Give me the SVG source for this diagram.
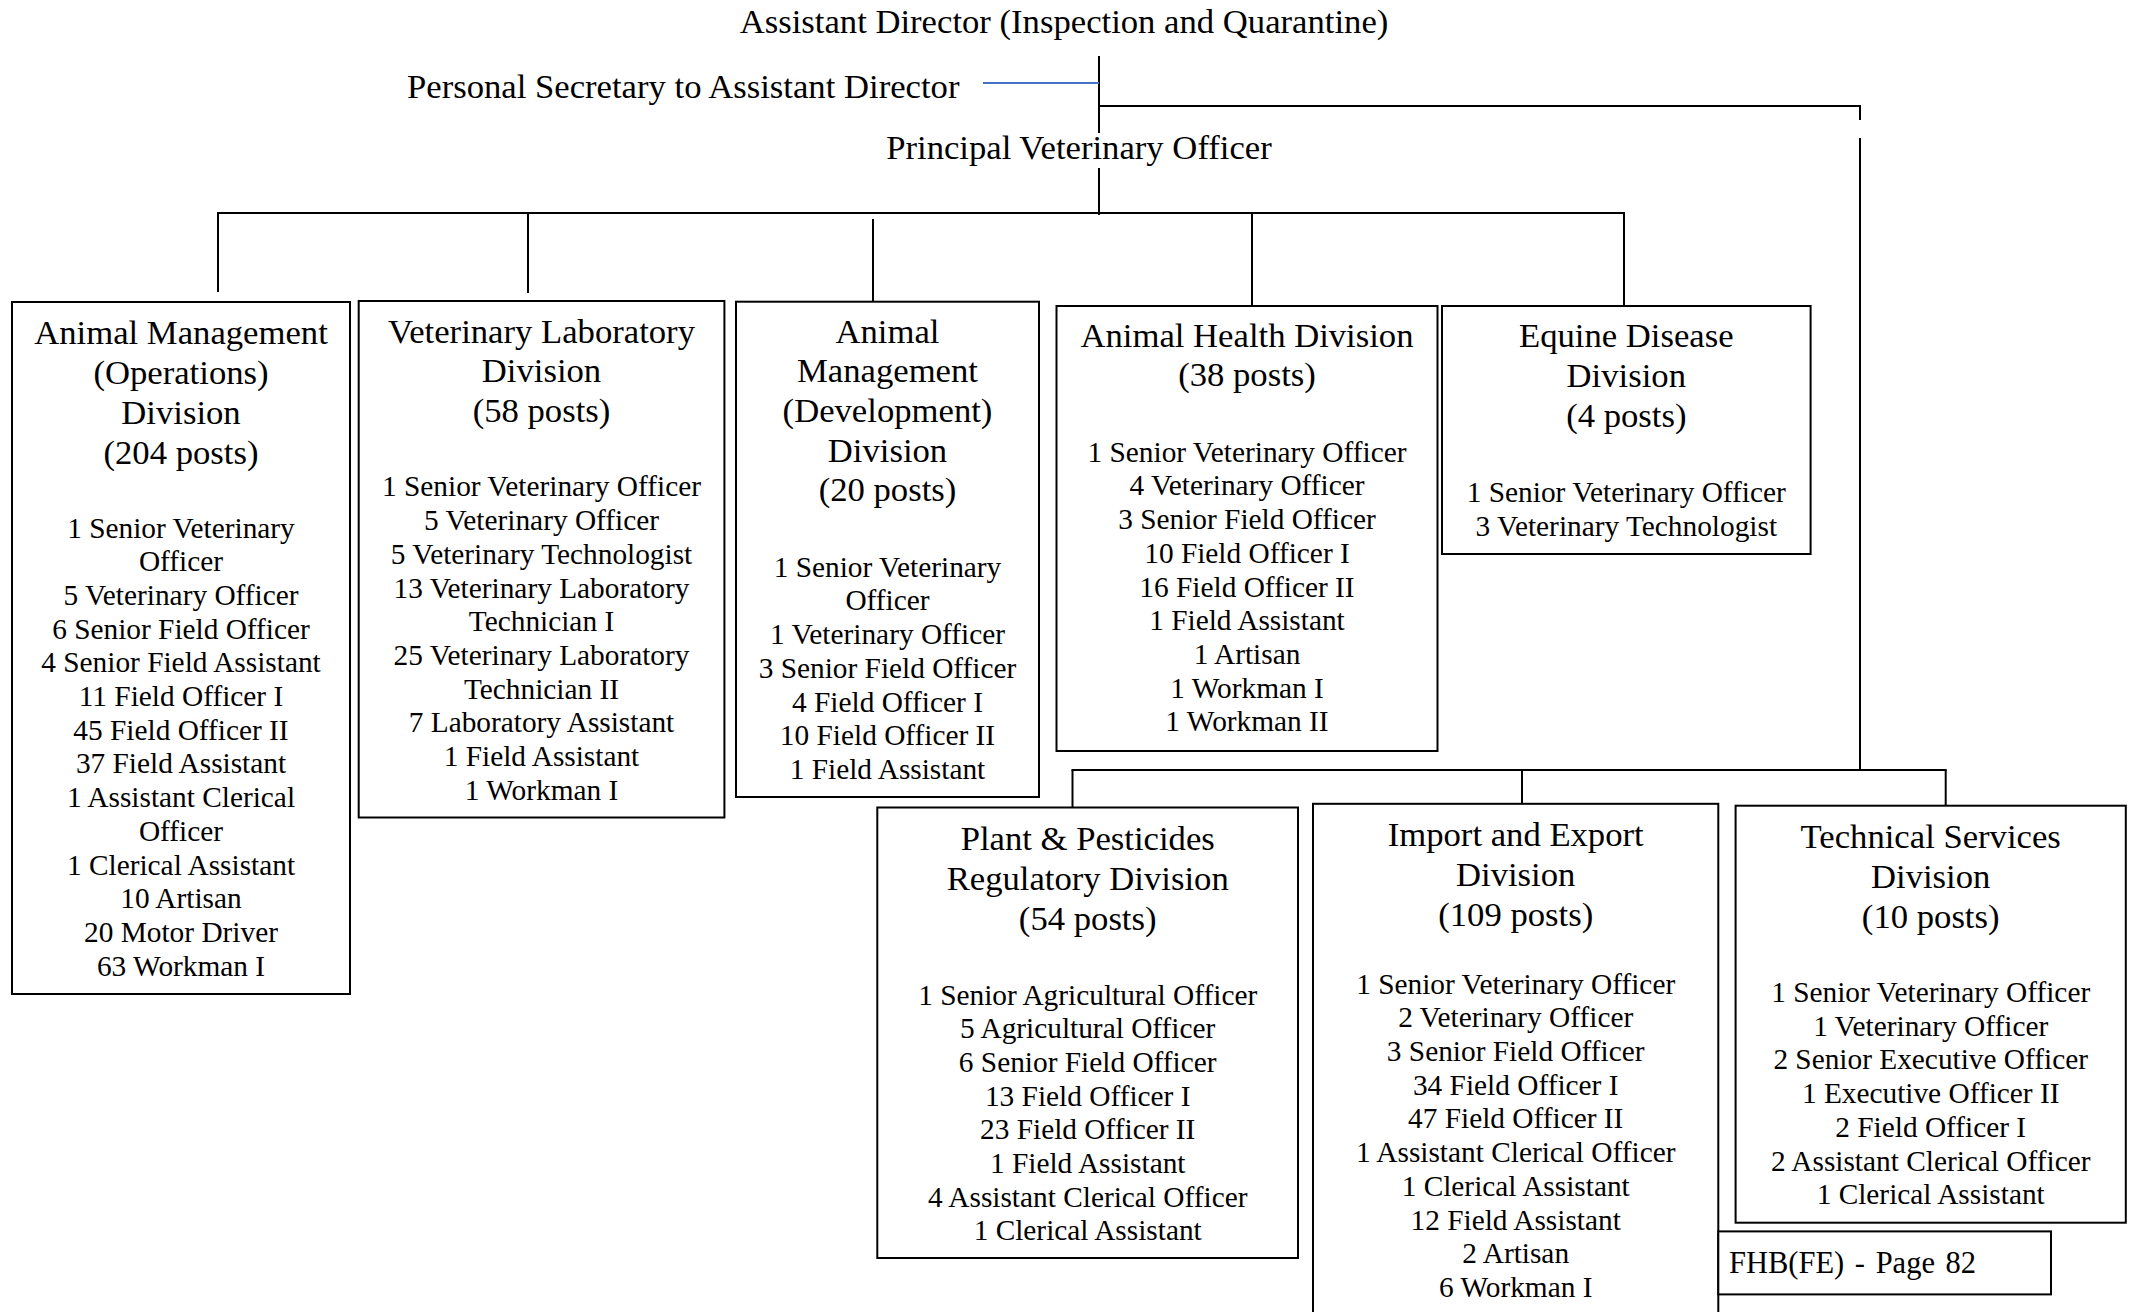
<svg xmlns="http://www.w3.org/2000/svg" width="2138" height="1312" viewBox="0 0 2138 1312">
<style>
text{font-family:"Liberation Serif","Times New Roman",serif;fill:#000}
.h{font-size:34.67px}
.t{font-size:34.67px;text-anchor:middle}
.b{font-size:29.33px;text-anchor:middle}
.box{fill:#fff;stroke:#000;stroke-width:2}
.ln{stroke:#000;stroke-width:2;fill:none}
.blue{stroke:#4472C4;stroke-width:2;fill:none}
</style>
<rect width="2138" height="1312" fill="#fff"/>
<g id="connectors">
<line class="ln" x1="1099" y1="56" x2="1099" y2="133"/>
<line class="ln" x1="1099" y1="168" x2="1099" y2="215"/>
<line class="blue" x1="983" y1="83" x2="1099" y2="83"/>
<line class="ln" x1="1099" y1="106" x2="1861" y2="106"/>
<line class="ln" x1="1860" y1="105" x2="1860" y2="120"/>
<line class="ln" x1="1860" y1="138" x2="1860" y2="770"/>
<line class="ln" x1="217" y1="213" x2="1625" y2="213" stroke-width="2.5"/>
<line class="ln" x1="218" y1="213" x2="218" y2="292"/>
<line class="ln" x1="528" y1="213" x2="528" y2="293"/>
<line class="ln" x1="873" y1="219" x2="873" y2="301"/>
<line class="ln" x1="1252" y1="213" x2="1252" y2="306"/>
<line class="ln" x1="1624" y1="213" x2="1624" y2="308"/>
<line class="ln" x1="1071.5" y1="770" x2="1946.7" y2="770"/>
<line class="ln" x1="1072.5" y1="770" x2="1072.5" y2="807"/>
<line class="ln" x1="1522" y1="770" x2="1522" y2="803"/>
<line class="ln" x1="1945.7" y1="770" x2="1945.7" y2="806"/>
</g>
<g id="assistant-director">
<text class="t" x="1064" y="33">Assistant Director (Inspection and Quarantine)</text>
</g>
<g id="personal-secretary">
<text class="h" x="407" y="98">Personal Secretary to Assistant Director</text>
</g>
<g id="principal-veterinary-officer">
<text class="t" x="1079" y="159">Principal Veterinary Officer</text>
</g>
<g id="animal-management-operations">
<rect class="box" x="12" y="302" width="338" height="692"/>
<text class="t" x="181" y="344">Animal Management</text>
<text class="t" x="181" y="384">(Operations)</text>
<text class="t" x="181" y="423.5">Division</text>
<text class="t" x="181" y="463.5">(204 posts)</text>
<text class="b" x="181" y="537.5">1 Senior Veterinary</text>
<text class="b" x="181" y="571.2">Officer</text>
<text class="b" x="181" y="604.9">5 Veterinary Officer</text>
<text class="b" x="181" y="638.6">6 Senior Field Officer</text>
<text class="b" x="181" y="672.3">4 Senior Field Assistant</text>
<text class="b" x="181" y="706">11 Field Officer I</text>
<text class="b" x="181" y="739.7">45 Field Officer II</text>
<text class="b" x="181" y="773.4">37 Field Assistant</text>
<text class="b" x="181" y="807.1">1 Assistant Clerical</text>
<text class="b" x="181" y="840.8">Officer</text>
<text class="b" x="181" y="874.5">1 Clerical Assistant</text>
<text class="b" x="181" y="908.2">10 Artisan</text>
<text class="b" x="181" y="941.9">20 Motor Driver</text>
<text class="b" x="181" y="975.6">63 Workman I</text>
</g>
<g id="veterinary-laboratory">
<rect class="box" x="358.7" y="301" width="365.7" height="516.5"/>
<text class="t" x="541.5" y="343">Veterinary Laboratory</text>
<text class="t" x="541.5" y="382">Division</text>
<text class="t" x="541.5" y="422">(58 posts)</text>
<text class="b" x="541.5" y="496.4">1 Senior Veterinary Officer</text>
<text class="b" x="541.5" y="530.1">5 Veterinary Officer</text>
<text class="b" x="541.5" y="563.8">5 Veterinary Technologist</text>
<text class="b" x="541.5" y="597.5">13 Veterinary Laboratory</text>
<text class="b" x="541.5" y="631.2">Technician I</text>
<text class="b" x="541.5" y="664.9">25 Veterinary Laboratory</text>
<text class="b" x="541.5" y="698.6">Technician II</text>
<text class="b" x="541.5" y="732.3">7 Laboratory Assistant</text>
<text class="b" x="541.5" y="766">1 Field Assistant</text>
<text class="b" x="541.5" y="799.7">1 Workman I</text>
</g>
<g id="animal-management-development">
<rect class="box" x="736" y="301.7" width="303" height="495.3"/>
<text class="t" x="887.5" y="343.3">Animal</text>
<text class="t" x="887.5" y="382">Management</text>
<text class="t" x="887.5" y="421.7">(Development)</text>
<text class="t" x="887.5" y="461.5">Division</text>
<text class="t" x="887.5" y="501.3">(20 posts)</text>
<text class="b" x="887.5" y="576.7">1 Senior Veterinary</text>
<text class="b" x="887.5" y="610.4">Officer</text>
<text class="b" x="887.5" y="644.1">1 Veterinary Officer</text>
<text class="b" x="887.5" y="677.8">3 Senior Field Officer</text>
<text class="b" x="887.5" y="711.5">4 Field Officer I</text>
<text class="b" x="887.5" y="745.2">10 Field Officer II</text>
<text class="b" x="887.5" y="778.9">1 Field Assistant</text>
</g>
<g id="animal-health">
<rect class="box" x="1056.5" y="306" width="381" height="445"/>
<text class="t" x="1247" y="347.3">Animal Health Division</text>
<text class="t" x="1247" y="385.5">(38 posts)</text>
<text class="b" x="1247" y="461.7">1 Senior Veterinary Officer</text>
<text class="b" x="1247" y="495.4">4 Veterinary Officer</text>
<text class="b" x="1247" y="529.1">3 Senior Field Officer</text>
<text class="b" x="1247" y="562.8">10 Field Officer I</text>
<text class="b" x="1247" y="596.5">16 Field Officer II</text>
<text class="b" x="1247" y="630.2">1 Field Assistant</text>
<text class="b" x="1247" y="663.9">1 Artisan</text>
<text class="b" x="1247" y="697.6">1 Workman I</text>
<text class="b" x="1247" y="731.3">1 Workman II</text>
</g>
<g id="equine-disease">
<rect class="box" x="1442" y="306" width="368.6" height="248"/>
<text class="t" x="1626.3" y="347.3">Equine Disease</text>
<text class="t" x="1626.3" y="387.2">Division</text>
<text class="t" x="1626.3" y="427">(4 posts)</text>
<text class="b" x="1626.3" y="502">1 Senior Veterinary Officer</text>
<text class="b" x="1626.3" y="535.7">3 Veterinary Technologist</text>
</g>
<g id="plant-pesticides">
<rect class="box" x="877.3" y="807.5" width="420.7" height="450.5"/>
<text class="t" x="1087.7" y="849.5">Plant &amp; Pesticides</text>
<text class="t" x="1087.7" y="889.5">Regulatory Division</text>
<text class="t" x="1087.7" y="929.5">(54 posts)</text>
<text class="b" x="1087.7" y="1004.5">1 Senior Agricultural Officer</text>
<text class="b" x="1087.7" y="1038.2">5 Agricultural Officer</text>
<text class="b" x="1087.7" y="1071.9">6 Senior Field Officer</text>
<text class="b" x="1087.7" y="1105.6">13 Field Officer I</text>
<text class="b" x="1087.7" y="1139.3">23 Field Officer II</text>
<text class="b" x="1087.7" y="1173">1 Field Assistant</text>
<text class="b" x="1087.7" y="1206.7">4 Assistant Clerical Officer</text>
<text class="b" x="1087.7" y="1240.4">1 Clerical Assistant</text>
</g>
<g id="import-export">
<rect class="box" x="1313" y="803.8" width="405.3" height="520"/>
<text class="t" x="1515.7" y="846">Import and Export</text>
<text class="t" x="1515.7" y="886">Division</text>
<text class="t" x="1515.7" y="926">(109 posts)</text>
<text class="b" x="1515.7" y="993.6">1 Senior Veterinary Officer</text>
<text class="b" x="1515.7" y="1027.3">2 Veterinary Officer</text>
<text class="b" x="1515.7" y="1061">3 Senior Field Officer</text>
<text class="b" x="1515.7" y="1094.7">34 Field Officer I</text>
<text class="b" x="1515.7" y="1128.4">47 Field Officer II</text>
<text class="b" x="1515.7" y="1162.1">1 Assistant Clerical Officer</text>
<text class="b" x="1515.7" y="1195.8">1 Clerical Assistant</text>
<text class="b" x="1515.7" y="1229.5">12 Field Assistant</text>
<text class="b" x="1515.7" y="1263.2">2 Artisan</text>
<text class="b" x="1515.7" y="1296.9">6 Workman I</text>
</g>
<g id="technical-services">
<rect class="box" x="1735.6" y="805.7" width="390.2" height="417"/>
<text class="t" x="1930.7" y="847.6">Technical Services</text>
<text class="t" x="1930.7" y="887.8">Division</text>
<text class="t" x="1930.7" y="928">(10 posts)</text>
<text class="b" x="1930.7" y="1002">1 Senior Veterinary Officer</text>
<text class="b" x="1930.7" y="1035.7">1 Veterinary Officer</text>
<text class="b" x="1930.7" y="1069.4">2 Senior Executive Officer</text>
<text class="b" x="1930.7" y="1103.1">1 Executive Officer II</text>
<text class="b" x="1930.7" y="1136.8">2 Field Officer I</text>
<text class="b" x="1930.7" y="1170.5">2 Assistant Clerical Officer</text>
<text class="b" x="1930.7" y="1204.2">1 Clerical Assistant</text>
</g>
<g id="page-footer">
<rect class="box" x="1718.3" y="1231.4" width="332.7" height="63"/>
<text x="1729" y="1272.7" style="font-size:30.5px;word-spacing:3px">FHB(FE) - Page 82</text>
</g>
</svg>
